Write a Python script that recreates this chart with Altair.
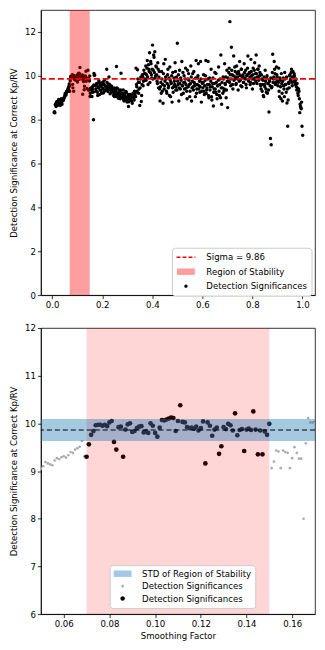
import altair as alt
import pandas as pd

FONT = "DejaVu Sans"
FS = 8.6

# ---------------- data ----------------
# smoothing factor < 0.05 (upper panel only)
top_left = [(0.008, 8.33), (0.011, 8.31), (0.014, 8.72), (0.017, 8.78), (0.020, 8.70),
            (0.023, 8.85), (0.026, 8.92), (0.029, 8.75), (0.032, 8.65), (0.035, 8.88),
            (0.038, 8.80), (0.041, 8.93), (0.044, 8.95), (0.047, 8.98),
            (0.0095, 8.36), (0.0125, 8.68), (0.0155, 8.60), (0.0185, 8.82), (0.0215, 8.66),
            (0.0245, 8.78), (0.0275, 8.88), (0.0305, 8.72), (0.0335, 8.80), (0.0365, 8.95),
            (0.0395, 8.70), (0.0425, 8.86), (0.0455, 8.90), (0.0485, 9.02)]

# zoomed range 0.050 - 0.170 (both panels)
zoom_pts = [
    (0.050, 9.05), (0.051, 9.10), (0.052, 9.19), (0.053, 9.16), (0.054, 9.14), (0.055, 9.12),
    (0.056, 9.22), (0.057, 9.27), (0.058, 9.25), (0.059, 9.29), (0.060, 9.31), (0.061, 9.28),
    (0.062, 9.33), (0.063, 9.40), (0.064, 9.38), (0.065, 9.45), (0.066, 9.48), (0.067, 9.51),
    (0.068, 9.63), (0.069, 9.31),
    (0.070, 9.30), (0.071, 9.56), (0.072, 9.76), (0.073, 9.84), (0.074, 9.96), (0.075, 9.97),
    (0.076, 9.97), (0.077, 9.95), (0.078, 9.97), (0.079, 9.94), (0.080, 10.02), (0.081, 10.05),
    (0.082, 9.61), (0.083, 9.45), (0.084, 9.92), (0.085, 9.93), (0.086, 9.30), (0.087, 9.87),
    (0.088, 9.98), (0.089, 10.00), (0.090, 9.82), (0.091, 9.84), (0.092, 9.90), (0.093, 9.93),
    (0.094, 9.94), (0.095, 9.81), (0.096, 9.83), (0.097, 9.80), (0.098, 10.00), (0.099, 9.95),
    (0.100, 9.80), (0.101, 9.72), (0.102, 9.91), (0.103, 10.07), (0.104, 10.06), (0.105, 10.08),
    (0.106, 10.10), (0.107, 10.12), (0.108, 10.11), (0.109, 9.84), (0.110, 10.05), (0.111, 10.38),
    (0.112, 10.03), (0.113, 10.02), (0.114, 9.92), (0.115, 9.90), (0.116, 9.91), (0.117, 9.89),
    (0.118, 9.93), (0.119, 9.85), (0.120, 9.90), (0.121, 10.04), (0.122, 9.16), (0.123, 10.02),
    (0.124, 9.95), (0.125, 9.74), (0.126, 9.87), (0.127, 9.91), (0.128, 9.36), (0.129, 9.52),
    (0.130, 9.92), (0.131, 9.88), (0.132, 9.99), (0.133, 9.96), (0.134, 9.85), (0.135, 10.21),
    (0.136, 9.75), (0.137, 9.86), (0.138, 9.88), (0.139, 9.42), (0.140, 9.87), (0.141, 9.89),
    (0.142, 9.86), (0.143, 10.25), (0.144, 9.87), (0.145, 9.35), (0.146, 9.85), (0.147, 9.35),
    (0.148, 9.83), (0.149, 9.76), (0.150, 9.99),
    (0.151, 9.06), (0.152, 9.20), (0.153, 9.43), (0.154, 9.41), (0.155, 9.06), (0.156, 9.43),
    (0.157, 9.40), (0.158, 9.38), (0.159, 9.06), (0.160, 9.27), (0.161, 9.50), (0.162, 9.38),
    (0.163, 9.26), (0.164, 9.26), (0.165, 8.00), (0.166, 9.58), (0.167, 10.11), (0.168, 10.02),
    (0.169, 10.02), (0.170, 10.04)]

# smoothing factor > 0.17 (upper panel only)
seg_c = [(0.173, 9.55), (0.176, 9.30), (0.179, 9.62), (0.182, 9.10), (0.185, 9.45), (0.188, 9.70),
         (0.191, 9.35), (0.194, 9.52), (0.197, 9.20), (0.200, 9.60), (0.203, 9.42), (0.206, 9.75),
         (0.209, 9.30), (0.212, 9.55), (0.215, 9.48), (0.218, 10.30), (0.221, 9.40), (0.224, 9.60),
         (0.227, 9.95), (0.230, 9.38), (0.233, 9.55), (0.236, 9.25), (0.239, 9.45),
         (0.1745, 9.40), (0.1775, 9.65), (0.1805, 9.25), (0.1835, 9.50), (0.1865, 9.78), (0.1895, 9.15),
         (0.1925, 9.58), (0.1955, 9.33), (0.1985, 9.68), (0.2015, 9.45), (0.2045, 9.22), (0.2075, 9.60),
         (0.2105, 9.82), (0.2135, 9.36), (0.2165, 9.50), (0.2195, 9.70), (0.2225, 9.28), (0.2255, 9.46),
         (0.2285, 9.62), (0.2315, 9.18), (0.2345, 9.40), (0.2375, 9.52), (0.2405, 9.35)]
seg_d = [(0.242, 9.30), (0.245, 9.10), (0.248, 9.45), (0.251, 9.20), (0.254, 9.35), (0.257, 10.42),
         (0.260, 9.05), (0.263, 9.40), (0.266, 9.15), (0.269, 9.30), (0.272, 8.95), (0.275, 10.12),
         (0.278, 9.20), (0.281, 9.00), (0.284, 9.35), (0.287, 8.85), (0.290, 9.10), (0.293, 8.95),
         (0.296, 9.25), (0.299, 8.80), (0.302, 9.05), (0.305, 8.60), (0.308, 8.95), (0.311, 9.15),
         (0.314, 8.90), (0.317, 9.05), (0.320, 8.75), (0.323, 9.20), (0.326, 9.00), (0.329, 9.30),
         (0.2435, 9.25), (0.2465, 9.40), (0.2495, 9.05), (0.2525, 9.30), (0.2555, 9.15), (0.2585, 9.45),
         (0.2615, 9.20), (0.2645, 8.98), (0.2675, 9.28), (0.2705, 9.10), (0.2735, 9.35), (0.2765, 9.02),
         (0.2795, 9.22), (0.2825, 9.12), (0.2855, 8.92), (0.2885, 9.18), (0.2915, 9.05), (0.2945, 9.28),
         (0.2975, 8.88), (0.3005, 9.00), (0.3035, 9.15), (0.3065, 8.82), (0.3095, 9.08), (0.3125, 8.95),
         (0.3155, 9.12), (0.3185, 8.85), (0.3215, 9.02), (0.3245, 9.18), (0.3275, 8.90), (0.3305, 9.10)]
seg_e = [(0.332, 9.20), (0.335, 10.35), (0.338, 9.50), (0.341, 10.28), (0.344, 9.70), (0.347, 9.40),
         (0.350, 8.65), (0.353, 9.85), (0.356, 8.83), (0.359, 9.60), (0.362, 9.95), (0.365, 9.75),
         (0.368, 10.10),
         (0.3335, 9.05), (0.3365, 9.60), (0.3395, 9.30), (0.3425, 9.85), (0.3455, 9.20), (0.3485, 9.70),
         (0.3515, 9.45), (0.3545, 9.95), (0.3575, 9.10), (0.3605, 10.05), (0.3635, 9.55), (0.3665, 10.25),
         (0.3695, 9.80)]
seg_f = [(0.371, 9.85), (0.374, 10.45), (0.377, 10.05), (0.380, 10.70), (0.383, 9.60), (0.386, 10.30),
         (0.389, 11.05), (0.392, 10.15), (0.395, 10.55), (0.398, 9.90), (0.401, 11.40), (0.404, 10.25),
         (0.407, 10.85), (0.410, 11.10), (0.413, 10.00), (0.416, 10.40), (0.419, 9.75), (0.422, 10.60),
         (0.425, 9.45), (0.428, 10.20),
         (0.3725, 10.10), (0.3755, 9.80), (0.3785, 10.35), (0.3815, 9.95), (0.3845, 10.50), (0.3875, 10.20),
         (0.3905, 9.70), (0.3935, 10.65), (0.3965, 10.05), (0.3995, 10.30), (0.4025, 9.85), (0.4055, 10.95),
         (0.4085, 10.15), (0.4115, 9.90), (0.4145, 10.45), (0.4175, 10.05), (0.4205, 9.65), (0.4235, 10.30),
         (0.4265, 9.95), (0.4295, 9.40)]
seg_g = [(0.431, 8.85), (0.434, 9.70), (0.437, 10.20), (0.440, 9.30), (0.443, 8.75), (0.446, 10.55),
         (0.449, 9.55), (0.452, 10.75), (0.455, 9.85), (0.458, 9.20), (0.461, 10.05), (0.464, 9.45),
         (0.467, 9.90), (0.470, 10.40), (0.473, 9.05), (0.476, 9.65), (0.479, 8.80), (0.482, 10.15),
         (0.485, 9.50), (0.488, 9.75), (0.491, 10.60), (0.494, 9.35), (0.497, 9.95), (0.500, 11.48),
         (0.503, 9.60), (0.506, 8.85), (0.509, 10.25), (0.512, 9.40), (0.515, 9.80), (0.518, 10.65),
         (0.521, 9.55), (0.524, 9.20), (0.527, 10.00), (0.530, 9.70), (0.533, 10.35), (0.536, 9.45),
         (0.539, 8.95), (0.542, 9.85), (0.545, 10.10), (0.548, 9.60), (0.551, 9.30), (0.554, 10.45),
         (0.557, 8.85), (0.560, 9.75), (0.563, 9.50), (0.566, 10.20), (0.569, 9.65), (0.572, 9.05),
         (0.575, 10.70), (0.578, 9.40), (0.581, 9.90), (0.584, 10.55), (0.587, 9.55), (0.590, 9.25),
         (0.593, 10.65), (0.596, 8.80), (0.599, 9.70),
         (0.4325, 9.50), (0.4355, 9.20), (0.4385, 9.85), (0.4415, 9.60), (0.4445, 10.10), (0.4475, 9.40),
         (0.4505, 9.75), (0.4535, 9.95), (0.4565, 9.30), (0.4595, 9.65), (0.4625, 10.30), (0.4655, 9.55),
         (0.4685, 9.10), (0.4715, 9.80), (0.4745, 9.70), (0.4775, 10.00), (0.4805, 9.45), (0.4835, 9.25),
         (0.4865, 9.90), (0.4895, 9.60), (0.4925, 10.20), (0.4955, 9.50), (0.4985, 9.35), (0.5015, 9.75),
         (0.5045, 10.05), (0.5075, 9.45), (0.5105, 9.65), (0.5135, 9.90), (0.5165, 9.15), (0.5195, 9.55),
         (0.5225, 10.15), (0.5255, 9.70), (0.5285, 9.40), (0.5315, 9.85), (0.5345, 9.60), (0.5375, 9.30),
         (0.5405, 10.25), (0.5435, 9.50), (0.5465, 9.80), (0.5495, 9.05), (0.5525, 9.65), (0.5555, 9.95),
         (0.5585, 9.45), (0.5615, 10.10), (0.5645, 9.35), (0.5675, 9.70), (0.5705, 9.55), (0.5735, 9.90),
         (0.5765, 9.20), (0.5795, 9.60), (0.5825, 10.00), (0.5855, 9.40), (0.5885, 9.75), (0.5915, 9.50),
         (0.5945, 9.85), (0.5975, 9.30), (0.6005, 9.65)]
seg_h = [(0.602, 9.45), (0.605, 10.05), (0.608, 9.15), (0.611, 9.80), (0.614, 10.70), (0.617, 9.35),
         (0.620, 9.60), (0.623, 10.65), (0.626, 9.00), (0.629, 9.90), (0.632, 9.50), (0.635, 10.30),
         (0.638, 8.90), (0.641, 9.65), (0.644, 8.62), (0.647, 9.40), (0.650, 10.15), (0.653, 9.25),
         (0.656, 9.70), (0.659, 8.95), (0.662, 9.55), (0.665, 10.40), (0.668, 9.10), (0.671, 9.85),
         (0.674, 10.95), (0.677, 8.70), (0.680, 9.45), (0.683, 9.95), (0.686, 9.30), (0.689, 10.55),
         (0.692, 9.60), (0.695, 9.00), (0.698, 10.25),
         (0.6035, 9.70), (0.6065, 9.30), (0.6095, 9.55), (0.6125, 10.00), (0.6155, 9.20), (0.6185, 9.45),
         (0.6215, 9.85), (0.6245, 9.10), (0.6275, 9.60), (0.6305, 9.35), (0.6335, 9.75), (0.6365, 9.05),
         (0.6395, 9.50), (0.6425, 9.90), (0.6455, 9.25), (0.6485, 9.65), (0.6515, 9.40), (0.6545, 10.10),
         (0.6575, 9.15), (0.6605, 9.55), (0.6635, 9.80), (0.6665, 9.30), (0.6695, 9.60), (0.6725, 9.00),
         (0.6755, 9.45), (0.6785, 9.70), (0.6815, 9.20), (0.6845, 9.85), (0.6875, 9.40), (0.6905, 9.65),
         (0.6935, 9.95), (0.6965, 9.35), (0.6995, 9.75)]
seg_i = [(0.701, 8.55), (0.704, 9.75), (0.707, 10.35), (0.710, 12.47), (0.713, 9.55), (0.716, 11.30),
         (0.719, 10.05), (0.722, 9.40), (0.725, 10.90), (0.728, 9.85), (0.731, 10.20), (0.734, 9.60),
         (0.737, 10.45), (0.740, 9.95), (0.743, 9.35), (0.746, 10.10), (0.749, 10.65), (0.752, 9.80),
         (0.755, 10.30), (0.758, 9.50), (0.761, 10.00), (0.764, 9.70), (0.767, 10.55), (0.770, 9.90),
         (0.773, 10.25), (0.776, 9.45), (0.779, 10.05), (0.782, 10.90), (0.785, 9.75), (0.788, 10.15),
         (0.791, 9.60), (0.794, 10.75), (0.797, 10.00), (0.800, 9.40), (0.803, 10.35), (0.806, 9.85),
         (0.809, 10.60), (0.812, 10.10), (0.815, 10.95), (0.818, 9.65), (0.821, 10.30), (0.824, 9.95),
         (0.827, 10.45), (0.830, 10.15),
         (0.7025, 9.90), (0.7055, 10.15), (0.7085, 9.70), (0.7115, 10.05), (0.7145, 9.85), (0.7175, 10.25),
         (0.7205, 9.60), (0.7235, 10.00), (0.7265, 9.80), (0.7295, 10.40), (0.7325, 9.95), (0.7355, 9.65),
         (0.7385, 10.10), (0.7415, 9.85), (0.7445, 10.20), (0.7475, 9.75), (0.7505, 10.00), (0.7535, 9.55),
         (0.7565, 10.30), (0.7595, 9.90), (0.7625, 10.05), (0.7655, 9.70), (0.7685, 10.15), (0.7715, 9.85),
         (0.7745, 9.60), (0.7775, 10.00), (0.7805, 10.35), (0.7835, 9.80), (0.7865, 10.10), (0.7895, 9.95),
         (0.7925, 9.70), (0.7955, 10.20), (0.7985, 9.85), (0.8015, 10.05), (0.8045, 9.65), (0.8075, 10.25),
         (0.8105, 9.90), (0.8135, 9.75), (0.8165, 10.10), (0.8195, 9.95), (0.8225, 10.30), (0.8255, 9.80),
         (0.8285, 10.00), (0.8315, 9.60)]
seg_j = [(0.833, 9.55), (0.836, 10.05), (0.839, 9.30), (0.842, 9.80), (0.845, 9.05), (0.848, 9.60),
         (0.851, 10.25), (0.854, 9.40), (0.857, 9.90), (0.860, 9.20), (0.863, 9.65), (0.866, 8.35),
         (0.869, 9.75), (0.872, 7.14), (0.875, 6.86), (0.878, 9.50), (0.881, 10.98), (0.884, 9.85),
         (0.887, 10.65), (0.890, 10.10), (0.893, 9.70), (0.896, 10.40), (0.899, 9.95),
         (0.8345, 9.40), (0.8375, 9.85), (0.8405, 9.60), (0.8435, 9.10), (0.8465, 9.95), (0.8495, 9.50),
         (0.8525, 9.75), (0.8555, 9.25), (0.8585, 10.00), (0.8615, 9.65), (0.8645, 9.35), (0.8675, 9.80),
         (0.8705, 9.55), (0.8735, 9.90), (0.8765, 9.45), (0.8795, 10.15), (0.8825, 9.70), (0.8855, 9.95),
         (0.8885, 10.30), (0.8915, 9.60), (0.8945, 9.85), (0.8975, 10.05), (0.9005, 9.75)]
seg_k = [(0.902, 9.55), (0.905, 10.35), (0.908, 9.05), (0.911, 9.80), (0.914, 8.95), (0.917, 9.65),
         (0.920, 8.85), (0.923, 9.90), (0.926, 9.40), (0.929, 10.15), (0.932, 9.60), (0.935, 9.25),
         (0.938, 8.76), (0.941, 7.70), (0.944, 9.70), (0.947, 9.45), (0.950, 10.05), (0.953, 9.85),
         (0.956, 10.30), (0.959, 9.55),
         (0.9035, 9.70), (0.9065, 9.30), (0.9095, 9.90), (0.9125, 9.50), (0.9155, 10.10), (0.9185, 9.20),
         (0.9215, 9.75), (0.9245, 9.55), (0.9275, 9.05), (0.9305, 9.85), (0.9335, 9.60), (0.9365, 9.95),
         (0.9395, 9.40), (0.9425, 8.90), (0.9455, 9.65), (0.9485, 10.00), (0.9515, 9.80), (0.9545, 10.15),
         (0.9575, 9.70), (0.9605, 9.95)]
seg_l = [(0.962, 10.20), (0.965, 9.75), (0.968, 10.00), (0.971, 9.60), (0.974, 9.85), (0.977, 9.35),
         (0.980, 9.45), (0.983, 9.10), (0.986, 9.30), (0.989, 8.32), (0.992, 8.60), (0.995, 8.50),
         (0.998, 7.70), (1.001, 7.29),
         (0.9635, 9.95), (0.9665, 10.10), (0.9695, 9.70), (0.9725, 9.80), (0.9755, 9.50), (0.9785, 9.65),
         (0.9815, 9.20), (0.9845, 9.40), (0.9875, 8.95), (0.9905, 8.70), (0.9935, 8.55), (0.9965, 8.80)]

stability_band = [0.07, 0.15]
sigma_value = 9.86
sigma_std = 0.23

top_x_ticks = [0.0, 0.2, 0.4, 0.6, 0.8, 1.0]
top_y_ticks = [0, 2, 4, 6, 8, 10, 12]
bot_x_ticks = [0.06, 0.08, 0.10, 0.12, 0.14, 0.16]
bot_y_ticks = [6, 7, 8, 9, 10, 11, 12]

top_labels = ["Sigma = 9.86", "Region of Stability", "Detection Significances"]
bot_labels = ["STD of Region of Stability", "Detection Significances (all)",
              "Detection Significances (stable)"]
y_title = "Detection Significance at Correct Kp/RV"

# ---------------- tables ----------------
all_top = top_left + zoom_pts + seg_c + seg_d + seg_e + seg_f + seg_g + seg_h + seg_i + seg_j + seg_k + seg_l
top_df = pd.DataFrame(all_top, columns=["x", "y"])
top_df["lbl"] = top_labels[2]

zoom_df = pd.DataFrame(zoom_pts, columns=["x", "y"])
gray_df = zoom_df.copy()
gray_df["lbl"] = bot_labels[1]
black_df = zoom_df[(zoom_df["x"] >= stability_band[0] - 0.0005) & (zoom_df["x"] <= stability_band[1] + 0.0005)].copy()
black_df["lbl"] = bot_labels[2]

band_df = pd.DataFrame({"x": [stability_band[0]], "x2": [stability_band[1]]})
sig_df = pd.DataFrame({"y": [sigma_value]})
std_df = pd.DataFrame({"y": [sigma_value - sigma_std], "y2": [sigma_value + sigma_std]})

# legend symbol shapes (unit = sqrt(symbolSize)/2 = 4.5 px)
RECT_PATH = "M-2,-0.72H2V0.72H-2Z"
LINE_PATH = "M-2.1,0H2.1"


def dot_path(r):
    return f"M-{r},0A{r},{r} 0 1,0 {r},0A{r},{r} 0 1,0 -{r},0Z"


top_shape_expr = (f"datum.value === '{top_labels[0]}' ? '{LINE_PATH}' : "
                  f"datum.value === '{top_labels[1]}' ? '{RECT_PATH}' : '{dot_path(0.36)}'")
top_stroke_expr = f"datum.value === '{top_labels[0]}' ? 'red' : 'transparent'"
bot_shape_expr = (f"datum.value === '{bot_labels[0]}' ? '{RECT_PATH}' : "
                  f"datum.value === '{bot_labels[1]}' ? '{dot_path(0.29)}' : '{dot_path(0.5)}'")

legend_common = dict(title=None, orient="none", labelFont=FONT, labelFontSize=FS, labelColor="black",
                     fillColor="white", strokeColor="#cccccc", cornerRadius=3, padding=4,
                     rowPadding=2.5, symbolSize=81, symbolOffset=4.5, labelOffset=15,
                     symbolOpacity=1)

top_legend = alt.Legend(
    legendX=131.5, legendY=238.5,
    symbolType=alt.ExprRef(expr=top_shape_expr),
    symbolStrokeColor=alt.ExprRef(expr=top_stroke_expr),
    symbolStrokeWidth=1.5, symbolDash=[4, 2],
    **legend_common)

bot_legend = alt.Legend(
    legendX=69, legendY=238,
    labelExpr="indexof(datum.label, 'Detection') === 0 ? 'Detection Significances' : datum.label",
    symbolType=alt.ExprRef(expr=bot_shape_expr),
    symbolStrokeWidth=0,
    **legend_common)

# ---------------- upper panel ----------------
tx = alt.X("x:Q", scale=alt.Scale(domain=[-0.045, 1.05], nice=False, zero=False),
           axis=alt.Axis(values=top_x_ticks, format=".1f", title=None))
ty = alt.Y("y:Q", scale=alt.Scale(domain=[0, 13], nice=False, zero=False),
           axis=alt.Axis(values=top_y_ticks, format="d", title=y_title))

top_points = alt.Chart(top_df).mark_circle(size=12, opacity=1).encode(
    x=tx, y=ty,
    color=alt.Color("lbl:N", scale=alt.Scale(domain=top_labels, range=["red", "#ff9e9e", "black"]),
                    legend=top_legend))
top_band = alt.Chart(band_df).mark_rect(color="red", opacity=0.38).encode(x="x:Q", x2="x2:Q")
top_rule = alt.Chart(sig_df).mark_rule(color="red", strokeDash=[6, 3], strokeWidth=1.6).encode(y="y:Q")
top = alt.layer(top_points, top_band, top_rule).properties(width=275, height=286)

# ---------------- lower panel ----------------
bx = alt.X("x:Q", scale=alt.Scale(domain=[0.05, 0.17], nice=False, zero=False),
           axis=alt.Axis(values=bot_x_ticks, format=".2f", title="Smoothing Factor"))
by = alt.Y("y:Q", scale=alt.Scale(domain=[6, 12], nice=False, zero=False),
           axis=alt.Axis(values=bot_y_ticks, format="d", title=y_title))
bcolor = alt.Color("lbl:N", scale=alt.Scale(domain=bot_labels, range=["#a6c8e8", "#ababab", "black"]),
                   legend=bot_legend)

gray_pts = alt.Chart(gray_df).mark_circle(size=7, opacity=1, clip=True).encode(x=bx, y=by, color=bcolor)
black_pts = alt.Chart(black_df).mark_circle(size=22, opacity=1, clip=True).encode(x=bx, y=by, color=bcolor)
pink_band = alt.Chart(band_df).mark_rect(color="red", opacity=0.16).encode(x="x:Q", x2="x2:Q")
std_band = alt.Chart(std_df).mark_rect(color="#1f77b4", opacity=0.4).encode(y="y:Q", y2="y2:Q")
black_rule = alt.Chart(sig_df).mark_rule(color="black", strokeDash=[5, 3], strokeWidth=1.2).encode(y="y:Q")
bottom = alt.layer(gray_pts, black_pts, pink_band, std_band, black_rule).properties(width=275, height=287)

chart = (
    alt.vconcat(top, bottom, spacing=13)
    .resolve_scale(color="independent")
    .properties(padding={"left": 1, "top": 0, "right": 0, "bottom": 0})
    .configure(font=FONT)
    .configure_axis(labelFont=FONT, labelFontSize=FS, titleFont=FONT, titleFontSize=FS,
                    titleFontWeight="normal", labelColor="black", titleColor="black",
                    domainColor="black", tickColor="black", tickSize=3.5, labelPadding=2,
                    grid=False, domainWidth=0.8, tickWidth=0.8, labelFlush=False,
                    labelOverlap=False)
    .configure_axisX(titlePadding=3)
    .configure_axisY(titlePadding=6)
    .configure_view(stroke="black", strokeWidth=0.8)
)

chart.save("out.html", embed_options={"renderer": "svg", "actions": False})
